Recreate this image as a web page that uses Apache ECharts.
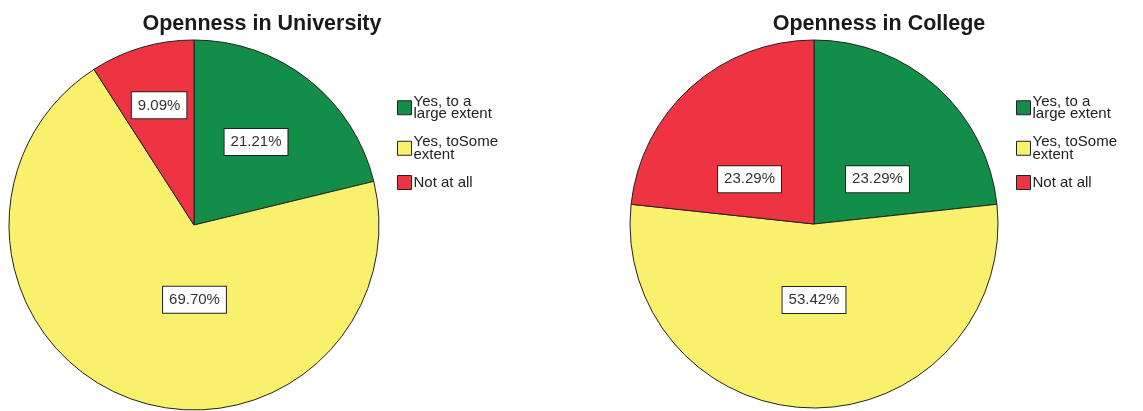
<!DOCTYPE html>
<html>
<head>
<meta charset="utf-8">
<title>Openness pies</title>
<script src="https://cdn.jsdelivr.net/npm/echarts@6/dist/echarts.min.js"></script>
<style>
  html, body { margin: 0; padding: 0; background: #ffffff; }
  #chart { width: 1143px; height: 411px; }
</style>
</head>
<body>
<div id="chart"></div>
<script>
// Response categories (legend order and slice order)
const categories = ['Yes, to a large extent', 'Yes, toSome extent', 'Not at all'];
// Wrapped legend text for each category
const legendText = ['Yes, to a\nlarge extent', 'Yes, toSome\nextent', 'Not at all'];
// Percentages per chart
const universityValues = [21.21, 69.70, 9.09];
const collegeValues = [23.29, 53.42, 23.29];
const chartTitles = ['Openness in University', 'Openness in College'];

const sliceColors = ['#138e48', '#f9f06c', '#ee3442'];
const FONT = '"Liberation Sans", Arial, sans-serif';

// Nudges for the value boxes inside each slice
const universityLabelShift = [[3, -8], [36, -14], [-8, -28]];
const collegeLabelShift = [[0, 26], [0, -19], [-1, 26]];

function pieData(values, shifts) {
  return categories.map((name, i) => ({
    name: name,
    value: values[i],
    itemStyle: { color: sliceColors[i] },
    label: { offset: shifts[i] }
  }));
}

function pieSeries(values, shifts, center, radius) {
  return {
    type: 'pie',
    center: center,
    radius: radius,
    startAngle: 90,
    clockwise: true,
    animation: false,
    silent: true,
    itemStyle: { borderColor: '#222222', borderWidth: 1 },
    label: {
      show: true,
      position: 'inside',
      formatter: p => p.value.toFixed(2) + '%',
      fontFamily: FONT,
      fontSize: 15,
      color: '#333333',
      backgroundColor: '#ffffff',
      borderColor: '#222222',
      borderWidth: 1,
      padding: [6, 6, 5, 6]
    },
    labelLine: { show: false },
    emphasis: { disabled: true },
    data: pieData(values, shifts)
  };
}

function legendAt(left, top) {
  return {
    orient: 'vertical',
    left: left,
    top: top,
    padding: 0,
    itemWidth: 14,
    itemHeight: 14,
    itemGap: 13,
    icon: 'rect',
    selectedMode: false,
    itemStyle: { borderColor: '#222222', borderWidth: 1 },
    formatter: name => legendText[categories.indexOf(name)],
    textStyle: { fontFamily: FONT, fontSize: 15, lineHeight: 12.5, color: '#222222', padding: [0, 0, 0, -3] },
    data: categories
  };
}

const chart = echarts.init(document.getElementById('chart'), null, { renderer: 'canvas' });
chart.setOption({
  backgroundColor: '#ffffff',
  animation: false,
  title: [
    { text: chartTitles[0], left: 257, top: 8, textAlign: 'center',
      textStyle: { fontFamily: FONT, fontSize: 21.5, fontWeight: 'bold', color: '#1a1a1a' } },
    { text: chartTitles[1], left: 874, top: 8, textAlign: 'center',
      textStyle: { fontFamily: FONT, fontSize: 21.5, fontWeight: 'bold', color: '#1a1a1a' } }
  ],
  legend: [legendAt(397, 94), legendAt(1016, 94)],
  series: [
    pieSeries(universityValues, universityLabelShift, [194, 225], 185),
    pieSeries(collegeValues, collegeLabelShift, [814, 224], 184)
  ]
});
</script>
</body>
</html>
